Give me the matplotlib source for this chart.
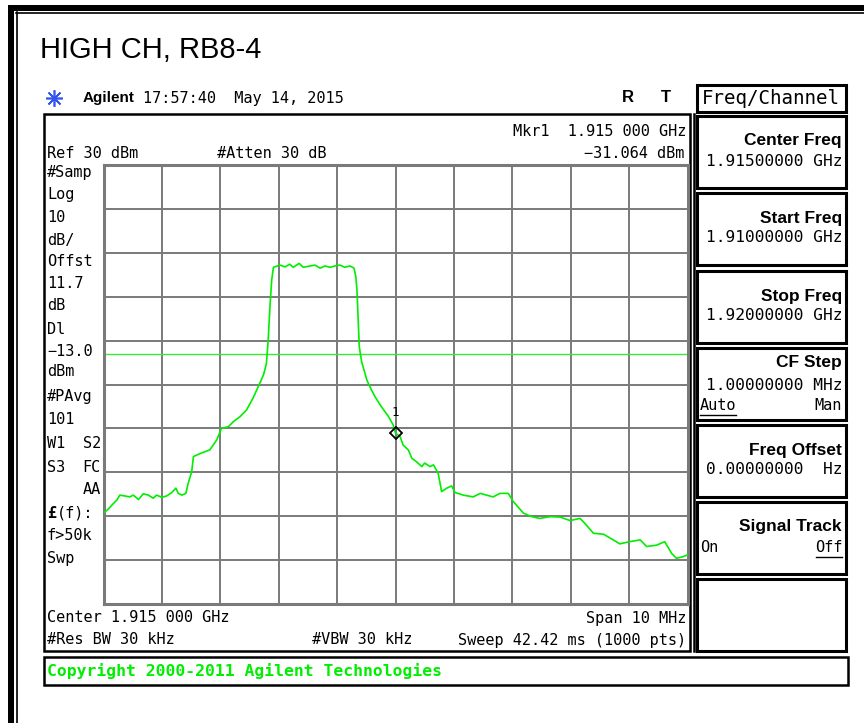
import numpy as np
import matplotlib.pyplot as plt
from matplotlib.patches import Rectangle

# trace: frequency (MHz) / level (dBm)
freq_mhz = [1910.01, 1910.08, 1910.17, 1910.23, 1910.28, 1910.37, 1910.45, 1910.51, 1910.60,
            1910.68, 1910.77, 1910.85, 1910.91, 1911.00, 1911.08, 1911.17, 1911.24, 1911.28,
            1911.34, 1911.41, 1911.45, 1911.51, 1911.54, 1911.66, 1911.82, 1911.94, 1912.02,
            1912.14, 1912.22, 1912.34, 1912.45, 1912.56, 1912.65, 1912.74, 1912.79, 1912.82,
            1912.85, 1912.88, 1912.91, 1913.02, 1913.11, 1913.19, 1913.25, 1913.35, 1913.42,
            1913.54, 1913.62, 1913.71, 1913.79, 1913.88, 1913.96, 1914.05, 1914.13, 1914.22,
            1914.29, 1914.32, 1914.34, 1914.38, 1914.42, 1914.51, 1914.59, 1914.65, 1914.76,
            1914.88, 1914.96, 1915.00, 1915.08, 1915.13, 1915.22, 1915.28, 1915.36, 1915.45,
            1915.50, 1915.59, 1915.65, 1915.73, 1915.79, 1915.88, 1915.96, 1916.02, 1916.16,
            1916.33, 1916.45, 1916.56, 1916.67, 1916.79, 1916.93, 1917.02, 1917.19, 1917.33,
            1917.47, 1917.65, 1917.82, 1917.99, 1918.16, 1918.24, 1918.39, 1918.56, 1918.73,
            1918.84, 1919.01, 1919.19, 1919.30, 1919.47, 1919.61, 1919.73, 1919.81, 1919.93,
            1920.00]
level_dbm = [-49.2, -48.4, -47.1, -46.3, -45.2, -45.4, -45.6, -45.2, -46.2,
             -44.9, -45.2, -45.9, -45.2, -45.7, -45.4, -44.6, -43.6, -44.8,
             -45.2, -44.8, -42.5, -39.9, -36.4, -35.7, -34.9, -32.6, -30.0,
             -29.6, -28.5, -27.3, -25.8, -23.1, -20.5, -17.8, -15.2, -9.9,
             -2.3, 3.8, 6.7, 7.2, 6.8, 7.4, 6.7, 7.6, 6.7,
             7.0, 7.2, 6.5, 7.0, 6.7, 7.0, 7.2, 6.7, 7.0,
             6.5, 4.6, 1.5, -11.4, -14.8, -19.0, -21.3, -22.8, -25.1,
             -27.3, -29.2, -31.06, -31.9, -33.8, -34.9, -36.8, -37.6, -38.7,
             -37.9, -38.7, -38.3, -40.2, -44.4, -43.6, -43.1, -44.6, -45.2,
             -45.6, -44.8, -45.2, -45.6, -44.8, -44.8, -46.7, -49.3, -50.1,
             -50.5, -50.1, -50.2, -51.0, -50.5, -51.6, -53.9, -54.1, -55.4,
             -56.3, -55.8, -55.4, -56.9, -56.6, -55.8, -58.5, -59.6, -59.2,
             -58.8]

marker_freq = 1915.0
marker_level = -31.064
display_line = -13.0
ref_level = 30
bottom_level = -70
start_mhz, stop_mhz = 1910, 1920

side_labels = ["#Samp", "Log", "10", "dB/", "Offst", "11.7", "dB", "Dl", "-13.0", "dBm",
               "#PAvg", "101"]
side_y = [173, 195, 218, 240, 262, 284, 305, 329, 351, 372, 397, 420]

softkeys = [("Center Freq", "1.91500000 GHz"),
            ("Start Freq", "1.91000000 GHz"),
            ("Stop Freq", "1.92000000 GHz"),
            ("CF Step", "1.00000000 MHz"),
            ("Freq Offset", "0.00000000  Hz"),
            ("Signal Track", "")]
softkey_top = [116, 193, 271, 348, 425, 502]

W, H = 864, 723
MONO = "DejaVu Sans Mono"
GREEN = "#00ee00"

fig = plt.figure(figsize=(8.64, 7.23), dpi=100)
bg = fig.add_axes([0, 0, 1, 1])
bg.set_xlim(0, W)
bg.set_ylim(H, 0)
bg.axis("off")


def box(x0, y0, x1, y1, lw=2.0):
    bg.add_patch(Rectangle((x0, y0), x1 - x0, y1 - y0, fill=False, ec="black", lw=lw))


# outer frame (cropped on right/bottom)
bg.add_patch(Rectangle((8, 5), 900, 6, color="black", lw=0))
bg.add_patch(Rectangle((8, 5), 6, 800, color="black", lw=0))
bg.plot([16, 900], [12.5, 12.5], color="black", lw=1.2)
bg.plot([16.5, 16.5], [12, 800], color="black", lw=1.2)

bg.text(40, 50, "HIGH CH, RB8-4", fontsize=21, family="Liberation Sans", va="center")

# header line
bg.plot([54], [98], marker=(8, 2, 0), ms=12, color="#3355ee", mew=1.2)
bg.text(83, 98, "Agilent", fontsize=11, family="Liberation Sans", weight="bold", va="center")
bg.text(143, 98, "17:57:40  May 14, 2015", fontsize=11, family=MONO, va="center")
bg.text(628, 98, "R", fontsize=12, family="Liberation Sans", weight="bold", va="center", ha="center")
bg.text(666, 98, "T", fontsize=12, family="Liberation Sans", weight="bold", va="center", ha="center")

# main screen
box(43.5, 114, 690, 651, lw=1.8)
bg.plot([694, 694], [114, 651], color="black", lw=1.8)

bg.text(686, 132, "Mkr1  1.915 000 GHz", fontsize=11, family=MONO, ha="right", va="center")
bg.text(684, 153, "\u221231.064 dBm", fontsize=11, family=MONO, ha="right", va="center")
bg.text(47, 153, "Ref 30 dBm", fontsize=11, family=MONO, va="center")
bg.text(217, 153, "#Atten 30 dB", fontsize=11, family=MONO, va="center")

for lab, y in zip(side_labels, side_y):
    bg.text(47, y, lab.replace("-", "\u2212"), fontsize=11, family=MONO, va="center")
bg.text(47, 444, "W1", fontsize=11, family=MONO, va="center")
bg.text(101, 444, "S2", fontsize=11, family=MONO, va="center", ha="right")
bg.text(47, 467, "S3", fontsize=11, family=MONO, va="center")
bg.text(101, 467, "FC", fontsize=11, family=MONO, va="center", ha="right")
bg.text(101, 490, "AA", fontsize=11, family=MONO, va="center", ha="right")
bg.text(47, 513, "\u00a3", fontsize=11, family=MONO, weight="bold", va="center")
bg.text(57, 513, "(f):", fontsize=11, family=MONO, va="center")
bg.text(47, 536, "f>50k", fontsize=11, family=MONO, va="center")
bg.text(47, 559, "Swp", fontsize=11, family=MONO, va="center")

bg.text(47, 618, "Center 1.915 000 GHz", fontsize=11, family=MONO, va="center")
bg.text(686, 618, "Span 10 MHz", fontsize=11, family=MONO, va="center", ha="right")
bg.text(47, 640, "#Res BW 30 kHz", fontsize=11, family=MONO, va="center")
bg.text(312, 640, "#VBW 30 kHz", fontsize=11, family=MONO, va="center")
bg.text(686, 640, "Sweep 42.42 ms (1000 pts)", fontsize=11, family=MONO, va="center", ha="right")

# copyright bar
box(43.5, 657, 848, 685, lw=1.8)
bg.text(47, 671, "Copyright 2000-2011 Agilent Technologies", fontsize=11.8, family=MONO,
        weight="bold", color=GREEN, va="center")

# softkey panel
box(697, 85, 846, 112, lw=2.2)
bg.text(771, 98, "Freq/Channel", fontsize=13.8, family=MONO, va="center", ha="center")
for (lab, val), top in zip(softkeys, softkey_top):
    box(697, top, 846, top + 72, lw=2.2)
    if lab == "CF Step":
        bg.text(842, top + 15, lab, fontsize=12.5, family="Liberation Sans", weight="bold",
                ha="right", va="center")
        bg.text(842, top + 38, val, fontsize=11.7, family=MONO, ha="right", va="center")
        bg.text(700, top + 58, "Auto", fontsize=11, family=MONO, va="center")
        bg.plot([700, 736], [top + 67, top + 67], color="black", lw=1)
        bg.text(842, top + 58, "Man", fontsize=11, family=MONO, ha="right", va="center")
    else:
        bg.text(842, top + 25, lab, fontsize=12.5, family="Liberation Sans", weight="bold",
                ha="right", va="center")
        if val:
            bg.text(842, top + 45, val, fontsize=11.7, family=MONO, ha="right", va="center")
        else:
            bg.text(700, top + 46, "On", fontsize=11, family=MONO, va="center")
            bg.text(842, top + 46, "Off", fontsize=11, family=MONO, ha="right", va="center")
            bg.plot([816, 842], [top + 55, top + 55], color="black", lw=1)
box(697, 579, 846, 651, lw=2.2)

# graticule
x0, x1, y0, y1 = 103.5, 687.5, 165, 604
ax = fig.add_axes([x0 / W, 1 - y1 / H, (x1 - x0) / W, (y1 - y0) / H])
ax.set_xlim(start_mhz, stop_mhz)
ax.set_ylim(bottom_level, ref_level)
ax.set_xticks(np.arange(start_mhz, stop_mhz + 1, 1))
ax.set_yticks(np.arange(bottom_level, ref_level + 1, 10))
ax.tick_params(length=0, labelbottom=False, labelleft=False)
ax.grid(True, color="#7a7a7a", lw=1.4)
for s in ax.spines.values():
    s.set_color("#7a7a7a")
    s.set_linewidth(2.2)

ax.axhline(display_line, color="#33ee33", lw=1.0)
ax.plot(freq_mhz, level_dbm, color=GREEN, lw=1.2, zorder=3)
ax.plot([marker_freq], [marker_level], marker="D", ms=6, mfc="none", mec="black", mew=1.3, zorder=4)
ax.annotate("1", (marker_freq, marker_level), xytext=(0, 10), textcoords="offset points",
            ha="center", va="bottom", fontsize=9, family=MONO)

fig.savefig("out.png", dpi=100)
